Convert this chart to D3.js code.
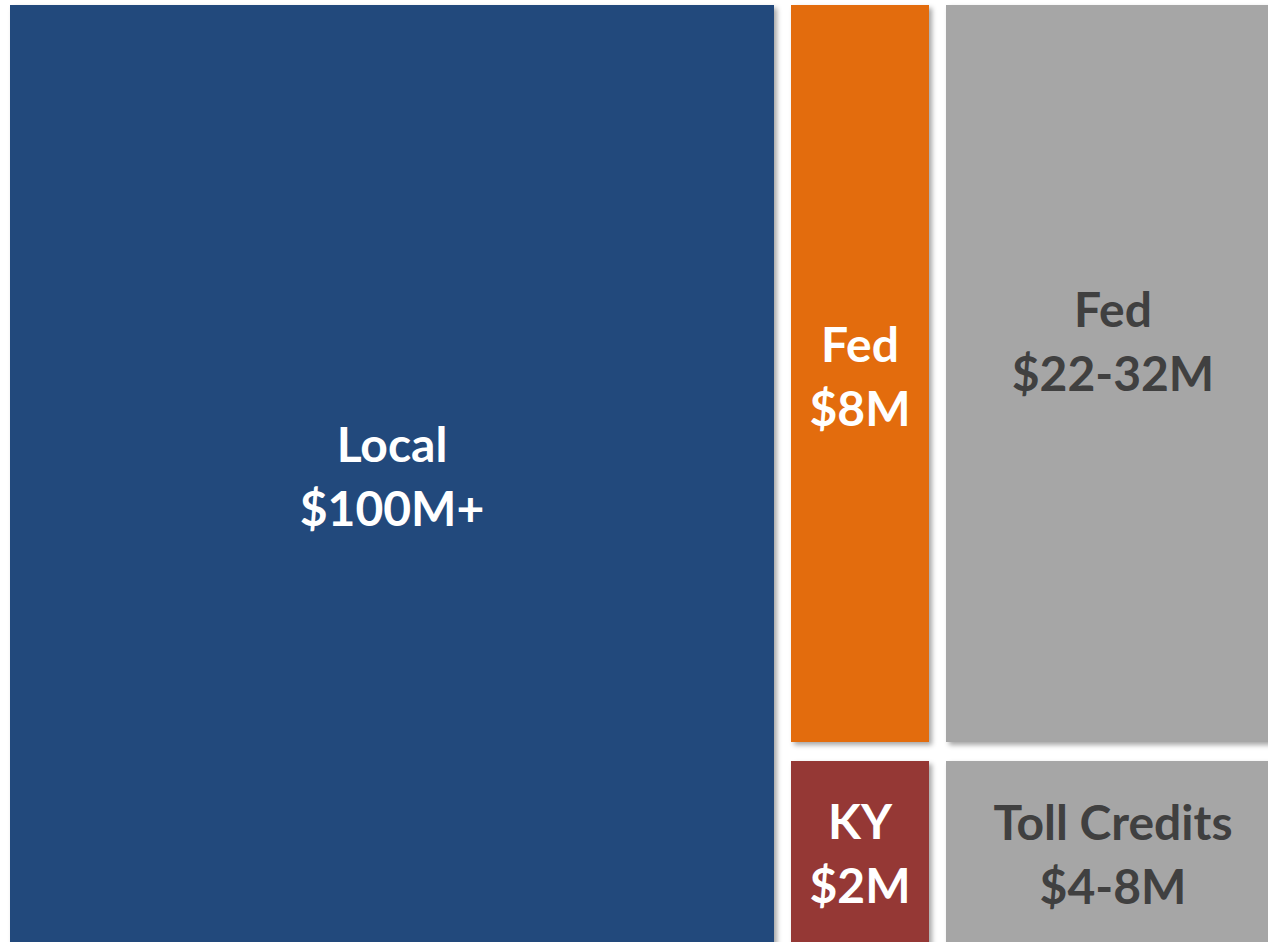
<!doctype html>
<html>
  <head>
    <title>Funding Sources</title>
    <style>
      body { margin: 0; background: #fff; }
      svg { display: block; }
    </style>
  </head>
  <body>
    <svg width='1268' height='942'></svg>

  <script src='https://cdn.jsdelivr.net/npm/d3@7/dist/d3.min.js'></script>
  <script>
// Funding blocks: label, amount and where each one sits in the grid.
var labels = ['Local', 'Fed', 'Fed', 'KY', 'Toll Credits'];
var amounts = ['$100M+', '$8M', '$22-32M', '$2M', '$4-8M'];
var cols = [0, 1, 2, 1, 2];
var rows = [0, 0, 0, 1, 1];
var rowSpans = [2, 1, 1, 1, 1];

// Layout and styling (not data).
var colWidths = [764, 138, 334],
  rowHeights = [737, 184],
  colGap = 17,
  rowGap = 19,
  fills = ['#204a7c', '#e36c0a', '#a6a6a6', '#953735', '#a6a6a6'],
  inks = ['#ffffff', '#ffffff', '#404040', '#ffffff', '#404040'],
  labelShift = [1, 2, -33, 0, 1];

var svg = d3.select('svg');

var colStart = d3.cumsum([0].concat(colWidths.map(function(w) { return w + colGap; })));
var rowStart = d3.cumsum([0].concat(rowHeights.map(function(h) { return h + rowGap; })));

var x = d3.scaleLinear().domain([0, 1]).range([10, 11]);
var y = d3.scaleLinear().domain([0, 1]).range([5, 6]);

var defs = svg.append('defs');
defs.append('filter')
  .attr('id', 'shadow')
  .attr('x', '-5%').attr('y', '-5%')
  .attr('width', '115%').attr('height', '115%')
  .append('feDropShadow')
  .attr('dx', 3).attr('dy', 3)
  .attr('stdDeviation', 2.5)
  .attr('flood-color', '#000')
  .attr('flood-opacity', 0.35);

var cells = labels.map(function(d, i) {
  var c = cols[i], r = rows[i];
  var h = d3.sum(rowHeights.slice(r, r + rowSpans[i])) + (rowSpans[i] - 1) * rowGap;
  return {
    label: d,
    amount: amounts[i],
    x0: x(colStart[c]),
    x1: x(colStart[c] + colWidths[c]),
    y0: y(rowStart[r]),
    y1: y(rowStart[r] + h),
    fill: fills[i],
    ink: inks[i],
    shift: labelShift[i]
  };
});

var g = svg.selectAll('g.cell')
  .data(cells)
  .enter().append('g')
  .attr('class', 'cell');

g.append('rect')
  .attr('x', function(d) { return d.x0; })
  .attr('y', function(d) { return d.y0; })
  .attr('width', function(d) { return d.x1 - d.x0; })
  .attr('height', function(d) { return d.y1 - d.y0; })
  .attr('fill', function(d) { return d.fill; })
  .attr('filter', 'url(#shadow)');

var txt = g.append('text')
  .attr('text-anchor', 'middle')
  .attr('font-family', 'Lato, "Open Sans", sans-serif')
  .attr('font-weight', 700)
  .attr('font-size', 48)
  .attr('fill', function(d) { return d.ink; });

txt.append('tspan')
  .attr('x', function(d) { return (d.x0 + d.x1) / 2; })
  .attr('y', function(d) { return (d.y0 + d.y1) / 2 + d.shift - 14; })
  .text(function(d) { return d.label; });

txt.append('tspan')
  .attr('x', function(d) { return (d.x0 + d.x1) / 2; })
  .attr('y', function(d) { return (d.y0 + d.y1) / 2 + d.shift + 50; })
  .text(function(d) { return d.amount; });
  </script>
  </body>
</html>
